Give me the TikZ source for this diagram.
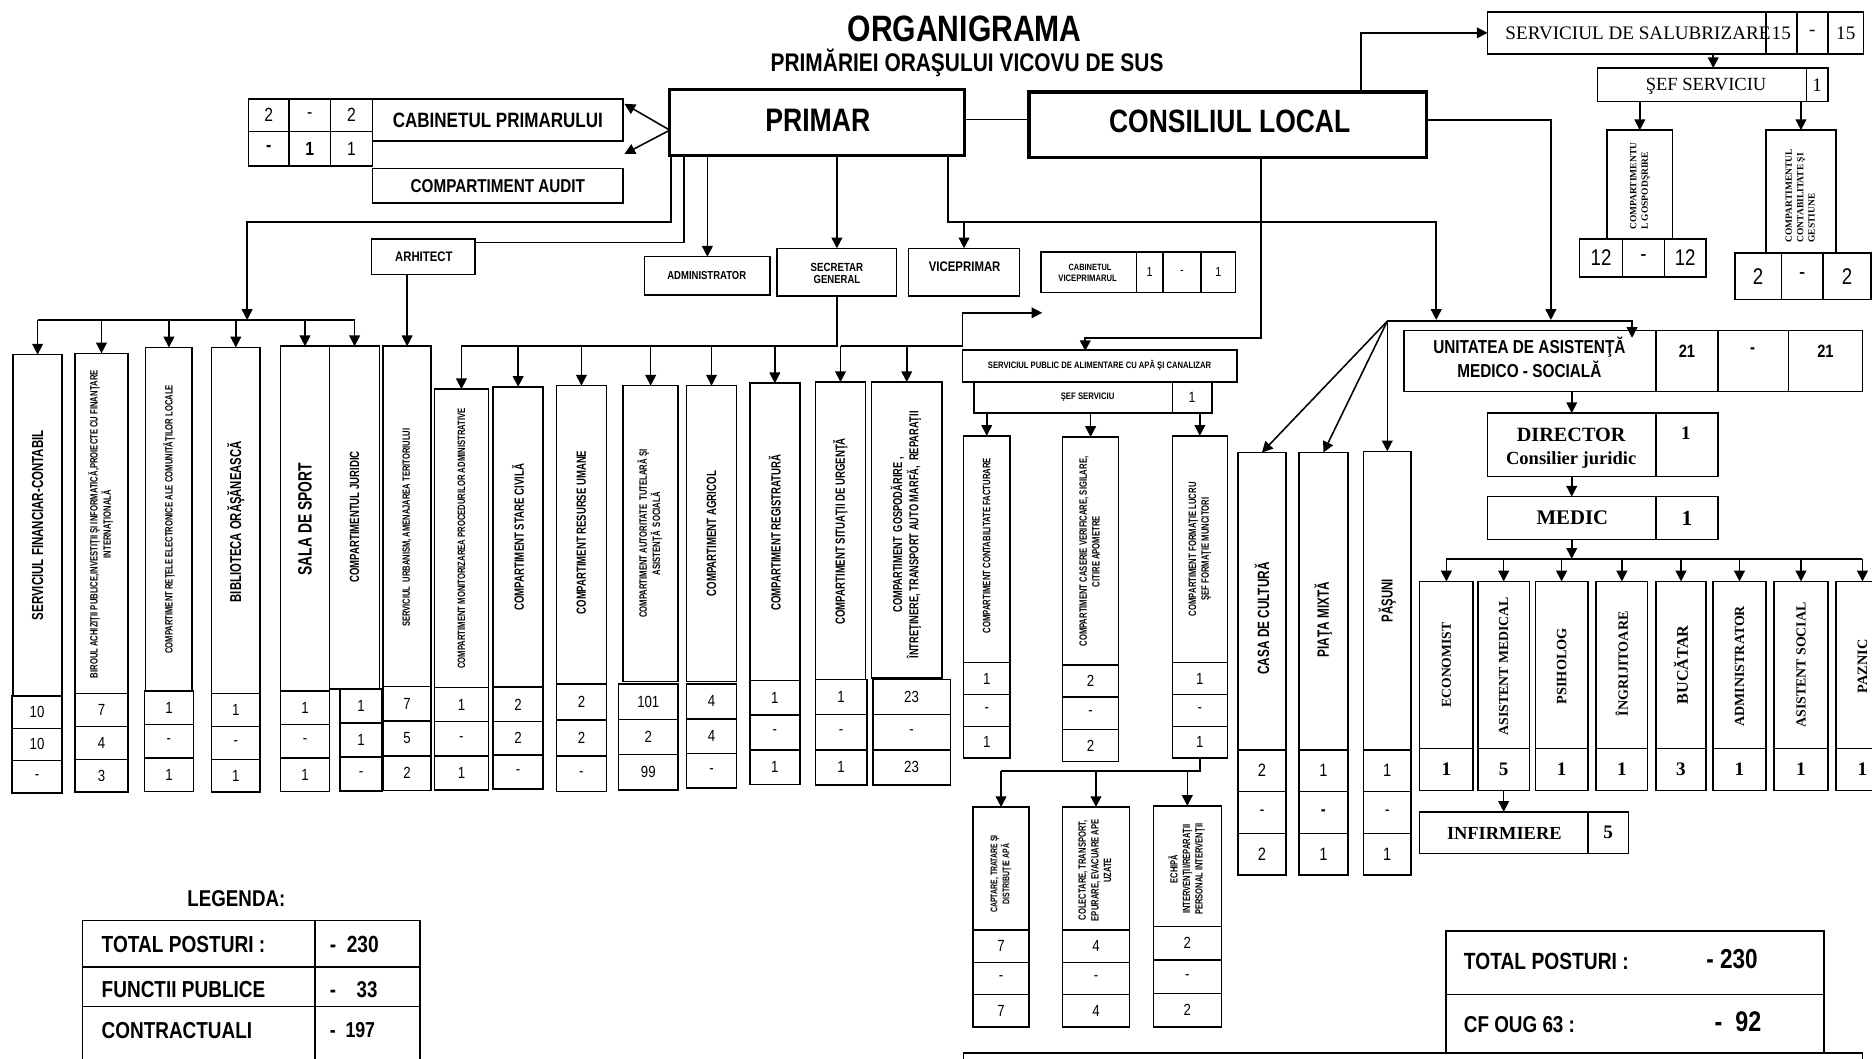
\documentclass[tikz,border=0pt]{standalone}
\usepackage{fontspec}
\usepackage{graphicx}
\setmainfont{Liberation Sans}[FakeStretch=0.82]
\newfontfamily\nar{Liberation Sans}[FakeStretch=0.72]
\newfontfamily\tms{Liberation Serif}
\usetikzlibrary{arrows.meta}
\newcommand{\bx}[5]{\node[box,anchor=north west,minimum width={(#4-#2)*1pt},minimum height={(#5-#3)*1pt}] (#1) at (#2,#3) {};}
\newcommand{\cellt}[7]{\bx{#1}{#2}{#3}{#4}{#5}\node[#6] (#1t) at (#1.center) {#7};}
\newcommand{\stk}[8]{%
  \pgfmathsetmacro\stkA{#4+#5}%
  \pgfmathsetmacro\stkB{#4+2*#5}%
  \pgfmathsetmacro\stkC{#4+3*#5}%
  \cellt{#1a}{#2}{#4}{#3}{\stkA}{num}{#6}%
  \cellt{#1b}{#2}{\stkA}{#3}{\stkB}{num}{#7}%
  \cellt{#1c}{#2}{\stkB}{#3}{\stkC}{num}{#8}}
\newcommand{\vl}[6]{\node[vlab] (#1) at (#2,#3) {\resizebox{#4pt}{!}{\nar#5#6}};}
\newcommand{\vlm}[6]{\node[vlab] (#1) at (#2,#3) {\resizebox{#4pt}{!}{\nar#5\begin{tabular}{@{}c@{}}#6\end{tabular}}};}
\newcommand{\vll}[6]{\node[vlab] (#1) at (#2,#3) {\resizebox{#4pt}{!}{#5\begin{tabular}{@{}l@{}}#6\end{tabular}}};}
\newcommand{\hl}[6]{\node[lab,#5] (#1) at (#2,#3) {\resizebox{#4pt}{!}{#6}};}
\begin{document}
\begin{tikzpicture}[x=1pt,y=-1pt,
  box/.style={draw,line width=1.3pt,inner sep=0pt,outer sep=0pt},
  tbox/.style={draw,line width=2.8pt,inner sep=0pt,outer sep=0pt},
  ln/.style={line width=1.3pt},
  arr/.style={line width=1.3pt,-{Triangle[length=9pt,width=9pt]}},
  num/.style={inner sep=0pt,font=\fontsize{13.5}{15}\selectfont},
  unum/.style={inner sep=0pt,font=\bfseries\fontsize{15}{17}\selectfont},
  tnum/.style={inner sep=0pt,font=\tms\bfseries\fontsize{16}{18}\selectfont},
  snum/.style={inner sep=0pt,font=\fontsize{12.5}{14}\selectfont},
  cvnum/.style={inner sep=0pt,font=\fontsize{11}{13}\selectfont},
  cpnum/.style={inner sep=0pt,font=\fontsize{16}{18}\selectfont},
  lab/.style={inner sep=0pt},
  vlab/.style={inner sep=0pt,rotate=90}]
\useasboundingbox (0,0) rectangle (1568,887);
\fill[white] (0,0) rectangle (1568,887);
\coordinate (barP) at (0,186);
\coordinate (barL) at (0,268);
\coordinate (barS) at (0,290);
\coordinate (barW) at (0,646);
\coordinate (barU) at (0,468);

% ---------- titles
\hl{title}{808}{24}{196}{}{\bfseries ORGANIGRAMA}
\hl{subtitle}{810}{53}{329}{}{\bfseries PRIMĂRIEI ORAŞULUI VICOVU DE SUS}

% ---------- PRIMAR / CONSILIUL LOCAL
\node[tbox,anchor=north west,minimum width=247pt,minimum height=55pt] (primar) at (561,75) {};
\hl{primart}{685}{101}{88}{}{\bfseries PRIMAR}
\node[tbox,anchor=north west,minimum width=333pt,minimum height=55pt] (consiliul) at (862,77) {};
\hl{consiliult}{1030}{102}{202}{}{\bfseries CONSILIUL LOCAL}

% ---------- cabinet primar
\cellt{cp1}{208}{83}{242}{110}{cpnum}{2}
\cellt{cp2}{242}{83}{277}{110}{cpnum}{-}
\cellt{cp3}{277}{83}{312}{110}{cpnum}{2}
\cellt{cp4}{208}{110}{242}{139}{cpnum}{\bfseries -}
\cellt{cp5}{242}{110}{277}{139}{cpnum}{\bfseries 1}
\cellt{cp6}{277}{110}{312}{139}{cpnum}{1}
\bx{cabp}{312}{83}{522}{118}
\hl{cabpt}{417}{101}{176}{}{\bfseries CABINETUL PRIMARULUI}
\bx{audit}{312}{141}{522}{170}
\hl{auditt}{417}{156}{146}{}{\bfseries COMPARTIMENT AUDIT}

% ---------- second row
\bx{arh}{311}{200}{398}{230}
\hl{arht}{355}{215}{48}{}{\bfseries ARHITECT}
\bx{adm}{540}{215}{645}{247}
\hl{admt}{592}{231}{66}{}{\bfseries ADMINISTRATOR}
\bx{sec}{651}{208}{751}{248}
\hl{sect1}{701}{224}{44}{}{\bfseries SECRETAR}
\hl{sect2}{701}{234}{39}{}{\bfseries GENERAL}
\bx{vice}{761}{208}{854}{248}
\hl{vicet}{808}{223}{60}{}{\bfseries VICEPRIMAR}
\bx{cabv}{872}{211}{952}{245}
\hl{cabvt1}{913}{224}{36}{}{\bfseries CABINETUL}
\hl{cabvt2}{911}{233}{49}{}{\bfseries VICEPRIMARUL}
\cellt{cv1}{952}{211}{974}{245}{cvnum}{1}
\cellt{cv2}{974}{211}{1006}{245}{cvnum}{-}
\cellt{cv3}{1006}{211}{1035}{245}{cvnum}{1}

% ---------- left group
\bx{b1}{11}{297}{52}{583}
\vl{b1t}{31.5}{440}{159}{\bfseries}{SERVICIUL FINANCIAR-CONTABIL}
\bx{b2}{63}{296}{107}{581}
\vlm{b2t}{85}{439}{258}{\bfseries}{BIROUL ACHIZIŢII PUBLICE,INVESTIŢII ŞI INFORMATICĂ,PROIECTE CU FINANŢARE\\INTERNAŢIONALĂ}
\bx{b3}{122}{291}{161}{579}
\vl{b3t}{141.5}{435}{225}{\bfseries}{COMPARTIMENT REŢELE ELECTRONICE ALE COMUNITĂŢILOR LOCALE}
\bx{b4}{177}{291}{218}{581}
\vl{b4t}{197.5}{437}{135}{\bfseries}{BIBLIOTECA ORĂŞĂNEASCĂ}
\bx{b5}{235}{290}{276}{579}
\vl{b5t}{255.5}{435}{94}{\bfseries}{SALA DE SPORT}
\bx{b6}{276}{290}{318}{577}
\vl{b6t}{297}{433}{110}{\bfseries}{COMPARTIMENTUL JURIDIC}
\bx{b7}{321}{290}{361}{575}
\vl{b7t}{341}{442}{166}{\bfseries}{SERVICIUL\ \ URBANISM, AMENAJAREA TERITORIULUI}
\stk{b1s}{10}{52}{583}{27}{10}{10}{-}
\stk{b2s}{63}{107}{581}{27.5}{7}{4}{3}
\stk{b3s}{121}{162}{579}{28}{1}{-}{1}
\stk{b4s}{177}{218}{581}{27.5}{1}{-}{1}
\stk{b5s}{235}{276}{579}{28}{1}{-}{1}
\stk{b6s}{285}{320}{577}{28.5}{1}{1}{-}
\stk{b7s}{321}{361}{575}{29}{7}{5}{2}

% ---------- middle group
\bx{b8}{364}{326}{409}{576}
\vl{b8t}{386.5}{451}{218}{\bfseries}{COMPARTIMENT MONITORIZAREA PROCEDURILOR ADMINISTRATIVE}
\bx{b9}{413}{324}{455}{575}
\vl{b9t}{434}{450}{123}{\bfseries}{COMPARTIMENT STARE CIVILĂ}
\bx{b10}{466}{323}{508}{573}
\vl{b10t}{487}{446}{137}{\bfseries}{COMPARTIMENT RESURSE UMANE}
\bx{b11}{522}{323}{568}{571}
\vlm{b11t}{545}{447}{141}{\bfseries}{COMPARTIMENT AUTORITATE\ \ TUTELARĂ ŞI\\ASISTENŢĂ\ \ SOCIALĂ}
\bx{b12}{575}{323}{617}{571}
\vl{b12t}{596}{447}{105}{\bfseries}{COMPARTIMENT AGRICOL}
\bx{b13}{628}{321}{670}{570}
\vl{b13t}{649}{446}{131}{\bfseries}{COMPARTIMENT REGISTRATURĂ}
\bx{b14}{683}{320}{725}{569}
\vl{b14t}{704}{445}{156}{\bfseries}{COMPARTIMENT SITUAŢII DE URGENŢĂ}
\bx{b15}{730}{320}{789}{568}
\vlm{b15t}{759.5}{448}{207}{\bfseries}{COMPARTIMENT\ \ GOSPODĂRIRE ,\\ÎNTREŢINERE, TRANSPORT AUTO MARFĂ,\ \ REPARAŢII}
\stk{b8s}{364}{409}{576}{28.5}{1}{-}{1}
\stk{b9s}{413}{455}{576}{28.3}{2}{2}{-}
\stk{b10s}{466}{508}{573}{30}{2}{2}{-}
\stk{b11s}{518}{568}{573}{29.5}{101}{2}{99}
\stk{b12s}{575}{617}{573}{29}{4}{4}{-}
\stk{b13s}{628}{670}{570}{29}{1}{-}{1}
\stk{b14s}{683}{726}{569}{29.5}{1}{-}{1}
\stk{b15s}{731}{796}{569}{29.5}{23}{-}{23}

% ---------- water service
\bx{sp}{806}{293}{1036}{320}
\hl{spt}{921}{306}{187}{}{\bfseries SERVICIUL PUBLIC DE ALIMENTARE CU APĂ ŞI CANALIZAR}
\bx{sef}{816}{320}{982}{346}
\hl{seft}{911}{333}{45}{}{\bfseries ŞEF SERVICIU}
\cellt{sefc}{982}{320}{1015}{346}{snum}{1}
\bx{b16}{807}{365}{846}{555}
\vl{b16t}{826.5}{457}{147}{\bfseries}{COMPARTIMENT CONTABILITATE FACTURARE}
\bx{b17}{890}{366}{937}{557}
\vlm{b17t}{913.5}{462}{159}{\bfseries}{COMPARTIMENT CASERIE VERIFICARE, SIGILARE,\\CITIRE APOMETRE}
\bx{b18}{982}{365}{1028}{555}
\vlm{b18t}{1005}{460}{112}{\bfseries}{COMPARTIMENT FORMAŢIE LUCRU\\ŞEF FORMAŢIE MUNCITORI}
\stk{b16s}{807}{846}{555}{26.7}{1}{-}{1}
\stk{b17s}{890}{937}{557}{27}{2}{-}{2}
\stk{b18s}{982}{1028}{555}{26.7}{1}{-}{1}
\bx{b19}{815}{676}{862}{779}
\vlm{b19t}{838.5}{732}{65}{\bfseries}{CAPTARE, TRATARE ŞI\\DISTRIBUŢIE APĂ}
\bx{b20}{890}{676}{946}{779}
\vlm{b20t}{918}{729}{85}{\bfseries}{COLECTARE, TRANSPORT,\\EPURARE, EVACUARE APE\\UZATE}
\bx{b21}{966}{675}{1023}{776}
\vlm{b21t}{994.5}{728}{76}{\bfseries}{ECHIPĂ\\INTERVENŢII/REPARAŢII\\PERSONAL INTERVENŢII}
\stk{b19s}{815}{862}{779}{27}{7}{-}{7}
\stk{b20s}{890}{946}{779}{27}{4}{-}{4}
\stk{b21s}{966}{1023}{776}{28}{2}{-}{2}

% ---------- casa, piata, pasuni
\bx{b22}{1037}{379}{1077}{628}
\vl{b22t}{1057}{518}{94}{\bfseries}{CASA DE CULTURĂ}
\bx{b23}{1088}{379}{1129}{628}
\vl{b23t}{1108.5}{519}{63}{\bfseries}{PIAŢA MIXTĂ}
\bx{b24}{1142}{378}{1182}{628}
\vl{b24t}{1162}{503}{36}{\bfseries}{PĂŞUNI}
\begin{scope}[num/.style={inner sep=0pt,font=\fontsize{15}{17}\selectfont}]
\stk{b22s}{1037}{1077}{628}{35}{2}{-}{2}
\stk{b23s}{1088}{1129}{628}{35}{1}{\bfseries -}{1}
\stk{b24s}{1142}{1182}{628}{35}{1}{-}{1}
\end{scope}

% ---------- unitatea medico-sociala
\bx{u}{1176}{277}{1387}{328}
\node[lab] (ut) at (1281,302) {\resizebox{161pt}{!}{\bfseries\begin{tabular}{@{}c@{}}UNITATEA DE ASISTENŢĂ\\MEDICO - SOCIALĂ\end{tabular}}};
\bx{u1}{1387}{277}{1439}{328} \node[unum] (u1t) at (1413,294) {21};
\bx{u2}{1439}{277}{1498}{328} \node[unum] (u2t) at (1468,294) {-};
\bx{u3}{1498}{277}{1560}{328} \node[unum] (u3t) at (1529,294) {21};
\bx{dir}{1246}{346}{1387}{399}
\hl{dirt}{1316}{364}{91}{}{\tms\bfseries DIRECTOR}
\hl{dirt2}{1316}{385}{109}{}{\tms\bfseries Consilier juridic}
\bx{dirc}{1387}{346}{1439}{399} \node[tnum] (dirct) at (1412,363) {1};
\bx{med}{1246}{416}{1387}{452}
\hl{medt}{1317}{434}{60}{}{\tms\bfseries MEDIC}
\bx{medc}{1387}{416}{1439}{452} \node[tnum,font=\tms\bfseries\fontsize{18}{20}\selectfont] (medct) at (1413,434) {1};
\begin{scope}[num/.style={inner sep=0pt,font=\tms\bfseries\fontsize{16}{18}\selectfont}]
\bx{e1}{1189}{487}{1234}{627} \vl{e1t}{1211.5}{557}{71}{\tms\bfseries}{ECONOMIST} \cellt{e1c}{1189}{627}{1234}{662}{num}{1}
\bx{e2}{1238}{487}{1281}{627} \vl{e2t}{1259.5}{558}{116}{\tms\bfseries}{ASISTENT MEDICAL} \cellt{e2c}{1238}{627}{1281}{662}{num}{5}
\bx{e3}{1286}{487}{1330}{627} \vl{e3t}{1308}{558}{64}{\tms\bfseries}{PSIHOLOG} \cellt{e3c}{1286}{627}{1330}{662}{num}{1}
\bx{e4}{1337}{487}{1380}{627} \vl{e4t}{1358.5}{556}{88}{\tms\bfseries}{ÎNGRIJITOARE} \cellt{e4c}{1337}{627}{1380}{662}{num}{1}
\bx{e5}{1387}{487}{1429}{627} \vl{e5t}{1408}{557}{66}{\tms\bfseries}{BUCĂTAR} \cellt{e5c}{1387}{627}{1429}{662}{num}{3}
\bx{e6}{1435}{487}{1479}{627} \vl{e6t}{1457}{558}{101}{\tms\bfseries}{ADMINISTRATOR} \cellt{e6c}{1435}{627}{1479}{662}{num}{1}
\bx{e7}{1486}{487}{1531}{627} \vl{e7t}{1508.5}{557}{105}{\tms\bfseries}{ASISTENT SOCIAL} \cellt{e7c}{1486}{627}{1531}{662}{num}{1}
\bx{e8}{1538}{487}{1582}{627} \vl{e8t}{1560}{558}{45}{\tms\bfseries}{PAZNIC} \cellt{e8c}{1538}{627}{1582}{662}{num}{1}
\bx{inf}{1189}{680}{1330}{715}
\hl{inft}{1260}{698}{96}{}{\tms\bfseries INFIRMIERE}
\cellt{infc}{1330}{680}{1364}{715}{num}{5}
\end{scope}

% ---------- salubrizare
\bx{sal}{1246}{10}{1479}{45}
\hl{salt}{1372}{28}{222}{}{\tms SERVICIUL DE SALUBRIZARE}
\begin{scope}[num/.style={inner sep=0pt,font=\tms\fontsize{16}{18}\selectfont}]
\cellt{sal1}{1479}{10}{1505}{45}{num}{15}
\cellt{sal2}{1505}{10}{1531}{45}{num}{-}
\cellt{sal3}{1531}{10}{1561}{45}{num}{15}
\bx{sef2}{1338}{57}{1513}{85}
\hl{sef2t}{1429}{72}{101}{}{\tms ŞEF SERVICIU}
\cellt{sef2c}{1513}{57}{1531}{85}{num}{1}
\end{scope}
\bx{g1}{1346}{109}{1401}{200}
\vll{g1t}{1373.5}{156}{73}{\tms\bfseries}{COMPARTIMENTU\\L GOSPODŞRIRE}
\bx{g2}{1479}{109}{1538}{212}
\vll{g2t}{1508.5}{164}{78}{\tms\bfseries}{COMPARTIMENTUL\\CONTABILITATE ŞI\\GESTIUNE}
\begin{scope}[num/.style={inner sep=0pt,font=\fontsize{19}{21}\selectfont}]
\cellt{g1a}{1323}{200}{1359}{232}{num}{12}
\cellt{g1b}{1359}{200}{1394}{232}{num}{-}
\cellt{g1c}{1394}{200}{1429}{232}{num}{12}
\cellt{g2a}{1453}{212}{1492}{251}{num}{2}
\cellt{g2b}{1492}{212}{1527}{251}{num}{-}
\cellt{g2c}{1527}{212}{1567}{251}{num}{2}
\end{scope}

% ---------- legend
\hl{leg}{198}{753}{82}{}{\bfseries LEGENDA:}
\bx{lg1}{69}{771}{264}{810} \bx{lg2}{264}{771}{352}{810}
\bx{lg3}{69}{810}{264}{843} \bx{lg4}{264}{810}{352}{843}
\bx{lg5}{69}{843}{264}{900} \bx{lg6}{264}{843}{352}{900}
\hl{lgt1}{85}{791}{137}{anchor=west}{\bfseries TOTAL POSTURI :}
\hl{lgv1}{276}{791}{41}{anchor=west}{\bfseries -\ \ 230}
\hl{lgt2}{85}{829}{137}{anchor=west}{\bfseries FUNCTII PUBLICE}
\hl{lgv2}{276}{829}{40}{anchor=west}{\bfseries -\ \ \ \ 33}
\hl{lgt3}{85}{863}{126}{anchor=west}{\bfseries CONTRACTUALI}
\hl{lgv3}{276}{863}{38}{anchor=west}{\bfseries -\ \ 197}

% ---------- totals
\bx{tot1}{1211}{780}{1528}{833}
\bx{tot2}{1211}{833}{1528}{882}
\hl{tt1}{1226}{805}{138}{anchor=west}{\bfseries TOTAL POSTURI :}
\hl{tv1}{1429}{803}{43}{anchor=west}{\bfseries - 230}
\hl{tt2}{1226}{858}{93}{anchor=west}{\bfseries CF OUG 63 :}
\hl{tv2}{1436}{856}{39}{anchor=west}{\bfseries -\ \ 92}
\bx{bigbox}{807}{882}{1560}{920}

% ---------- connectors
\coordinate (pc) at (808,100);
\draw[ln] (pc) -- (pc -| consiliul.west);
\coordinate (pl) at (561,109);
\coordinate (cpa) at (523,87);
\coordinate (cpb) at (523,129);
\draw[arr] (pl) -- (cpa);
\draw[arr] (pl) -- (cpb);
\draw[arr] ([xshift=1pt]primar.south west) |- (207,186) -- (207,268);
\draw[ln] ([xshift=12pt]primar.south west) |- (398,203);
\draw[arr] (arh.south -| b7.north) -- (b7.north);
\draw[arr] (primar.south -| adm.north) -- (adm.north);
\draw[arr] (primar.south -| sec.north) -- (sec.north);
\draw[arr] ([xshift=-14pt]primar.south east) |- (1203,186) -- (1203,268);
\draw[arr] (vice.north |- barP) -- (vice.north);
% left bar
\draw[ln] (b1.north |- barL) -- (b6.north |- barL);
\foreach \nn in {b1,b2,b3,b4,b5,b6} \draw[arr] (\nn.north |- barL) -- (\nn.north);
% secretar bar
\draw[ln] (sec.south) |- (b8.north |- barS);
\foreach \nn in {b8,b9,b10,b11,b12,b13} \draw[arr] (\nn.north |- barS) -- (\nn.north);
\draw[arr] (b14.north |- barS) -| (806,262) -- (873,262);
\draw[arr] (b14.north |- barS) -- (b14.north);
\draw[arr] (b15.north |- barS) -- (b15.north);
% consiliul
\draw[arr] ([yshift=4pt]consiliul.east) -| (1299,268);
\draw[arr] (1140,77) |- (sal.west);
\draw[arr] (1056,132) |- (909,283) -- (909,294);
\coordinate (fan) at (1162,269);
\draw[arr] (fan) -- (1367,269) -- (1367,283);
\draw[arr] (fan) -- (b22.north);
\draw[arr] (fan) -- (b23.north);
\draw[arr] (fan) -- (b24.north);
% water
\foreach \nn in {b16,b17,b18} \draw[arr] (\nn.north |- sef.south) -- (\nn.north);
\draw[ln] (b18sc.south) |- (b19.north |- barW);
\foreach \nn in {b19,b20,b21} \draw[arr] (\nn.north |- barW) -- (\nn.north);
% unitatea
\draw[arr] (u.south -| dir.north) -- (dir.north);
\draw[arr] (dir.south) -- (med.north);
\draw[arr] (med.south) -- (med.south |- barU);
\draw[ln] (e1.north |- barU) -- (e8.north |- barU);
\foreach \nn in {e1,e2,e3,e4,e5,e6,e7,e8} \draw[arr] (\nn.north |- barU) -- (\nn.north);
\draw[arr] (e2c.south) -- (inf.north -| e2c.south);
% salubrizare
\draw[arr] (1435,45) -- (1435,57);
\draw[arr] (g1.north |- sef2.south) -- (g1.north);
\draw[arr] (g2.north |- sef2.south) -- (g2.north);
\end{tikzpicture}
\end{document}
